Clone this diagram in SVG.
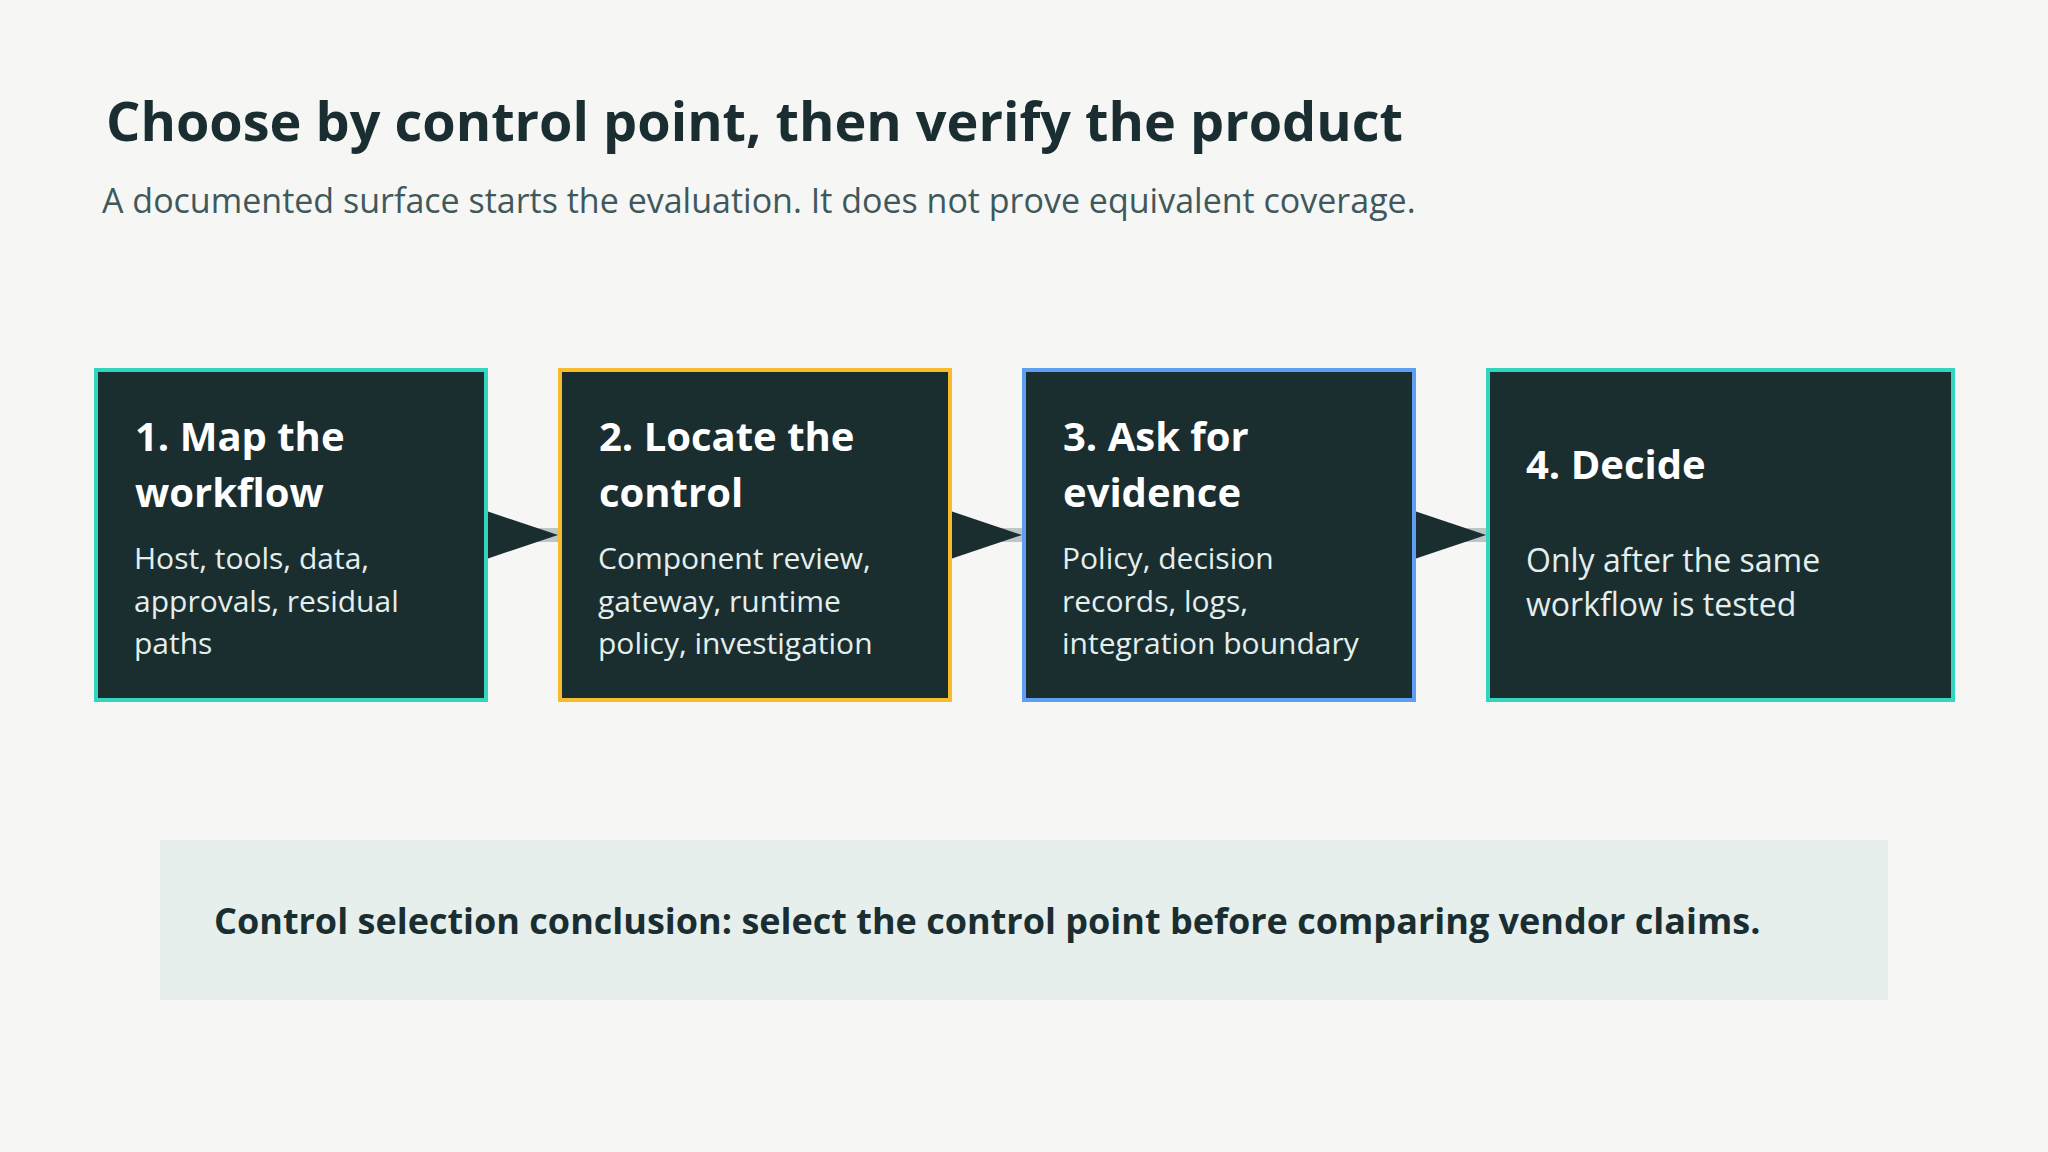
<svg xmlns="http://www.w3.org/2000/svg" width="2048" height="1152" viewBox="0 0 2048 1152">
  <style>
    .bg { fill: #f6f6f4; }
    .title { font-family: "Open Sans", "Noto Sans", sans-serif; font-weight: 700; font-size: 54px; fill: #1a2e31; }
    .sub { font-family: "Open Sans", "Noto Sans", sans-serif; font-weight: 400; font-size: 34px; fill: #3f585b; }
    .box { fill: #1a2e30; stroke-width: 4; }
    .teal { stroke: #34d5bf; }
    .amber { stroke: #f8bb2c; }
    .blue { stroke: #5f9ff3; }
    .head { font-family: "Open Sans", "Noto Sans", sans-serif; font-weight: 700; font-size: 40px; fill: #ffffff; }
    .body { font-family: "Open Sans", "Noto Sans", sans-serif; font-weight: 400; font-size: 30px; fill: #e4efed; }
    .body4 { font-size: 32px; }
    .line { stroke: #bcc6c4; stroke-width: 14; fill: none; }
    .tri { fill: #1a2e30; }
    .concl { fill: #e6efec; }
    .ctext { font-family: "Open Sans", "Noto Sans", sans-serif; font-weight: 700; font-size: 36px; fill: #1a2e31; }
  </style>
  <rect class="bg" x="0" y="0" width="2048" height="1152"/>

  <g id="header">
    <text class="title" x="106" y="141">Choose by control point, then verify the product</text>
    <text class="sub" x="102" y="213">A documented surface starts the evaluation. It does not prove equivalent coverage.</text>
  </g>

  <g id="connectors">
    <line class="line" x1="488" y1="535" x2="558" y2="535"/>
    <polygon class="tri" points="488,511.5 558,535 488,558.5"/>
    <line class="line" x1="952" y1="535" x2="1022" y2="535"/>
    <polygon class="tri" points="952,511.5 1022,535 952,558.5"/>
    <line class="line" x1="1416" y1="535" x2="1486" y2="535"/>
    <polygon class="tri" points="1416,511.5 1486,535 1416,558.5"/>
  </g>

  <g id="step1">
    <rect class="box teal" x="96" y="370" width="390" height="330"/>
    <text class="head" x="135" y="451">1. Map the</text>
    <text class="head" x="135" y="507">workflow</text>
    <text class="body" x="134" y="569">Host, tools, data,</text>
    <text class="body" x="134" y="612">approvals, residual</text>
    <text class="body" x="134" y="654">paths</text>
  </g>

  <g id="step2">
    <rect class="box amber" x="560" y="370" width="390" height="330"/>
    <text class="head" x="599" y="451">2. Locate the</text>
    <text class="head" x="599" y="507">control</text>
    <text class="body" x="598" y="569">Component review,</text>
    <text class="body" x="598" y="612">gateway, runtime</text>
    <text class="body" x="598" y="654">policy, investigation</text>
  </g>

  <g id="step3">
    <rect class="box blue" x="1024" y="370" width="390" height="330"/>
    <text class="head" x="1063" y="451">3. Ask for</text>
    <text class="head" x="1063" y="507">evidence</text>
    <text class="body" x="1062" y="569">Policy, decision</text>
    <text class="body" x="1062" y="612">records, logs,</text>
    <text class="body" x="1062" y="654">integration boundary</text>
  </g>

  <g id="step4">
    <rect class="box teal" x="1488" y="370" width="465" height="330"/>
    <text class="head" x="1526" y="479">4. Decide</text>
    <text class="body body4" x="1526" y="572">Only after the same</text>
    <text class="body body4" x="1526" y="616">workflow is tested</text>
  </g>

  <g id="conclusion">
    <rect class="concl" x="160" y="840" width="1728" height="160"/>
    <text class="ctext" x="214" y="934">Control selection conclusion: select the control point before comparing vendor claims.</text>
  </g>
</svg>
